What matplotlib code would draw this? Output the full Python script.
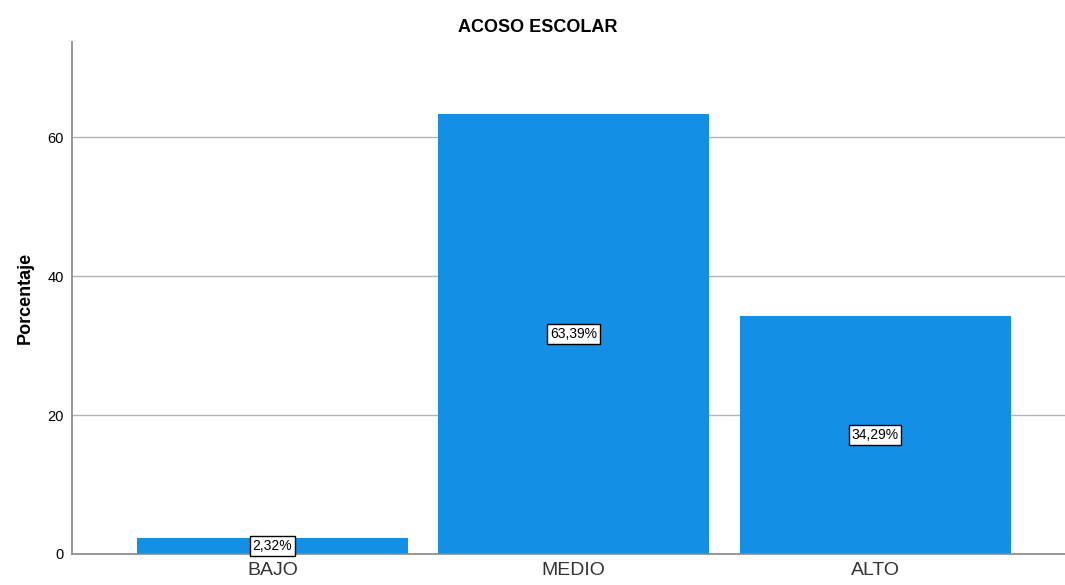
import matplotlib
matplotlib.use('Agg')
import matplotlib.pyplot as plt

plt.rcParams['font.family'] = ['Liberation Sans', 'DejaVu Sans']

categories = ['BAJO', 'MEDIO', 'ALTO']
percentages = [2.32, 63.39, 34.29]
value_labels = ['2,32%', '63,39%', '34,29%']

BAR_COLOR = '#1390e6'

fig = plt.figure(figsize=(10.65, 5.85), dpi=100)
ax = fig.add_axes([0.0676, 0.053, 0.9324, 0.875])

x = range(len(categories))
ax.bar(x, percentages, width=0.9, color=BAR_COLOR, zorder=2)

for xi, val, lab in zip(x, percentages, value_labels):
    ax.text(xi, val / 2, lab, ha='center', va='center', fontsize=10,
            bbox=dict(boxstyle='square,pad=0.2', facecolor='white', edgecolor='black', linewidth=1),
            zorder=3)

ax.set_xlim(-0.665, 2.63)
ax.set_ylim(0, 73.7)
ax.set_yticks([0, 20, 40, 60])
ax.set_xticks(list(x))
ax.set_xticklabels(categories, fontsize=14, color='#333333')
ax.tick_params(axis='y', labelsize=10.5, length=0, pad=6)
ax.tick_params(axis='x', length=0, pad=6)

ax.yaxis.grid(True, color='#b4b4b4', linewidth=1, zorder=0)
ax.set_axisbelow(True)
for s in ['top', 'right']:
    ax.spines[s].set_visible(False)
for s in ['left', 'bottom']:
    ax.spines[s].set_color('#888888')
    ax.spines[s].set_linewidth(1.2)

ax.set_ylabel('Porcentaje', fontsize=13, fontweight='bold', labelpad=10)
fig.text(0.505, 0.953, 'ACOSO ESCOLAR', ha='center', va='center', fontsize=13, fontweight='bold')

fig.savefig('out.png', dpi=100)
